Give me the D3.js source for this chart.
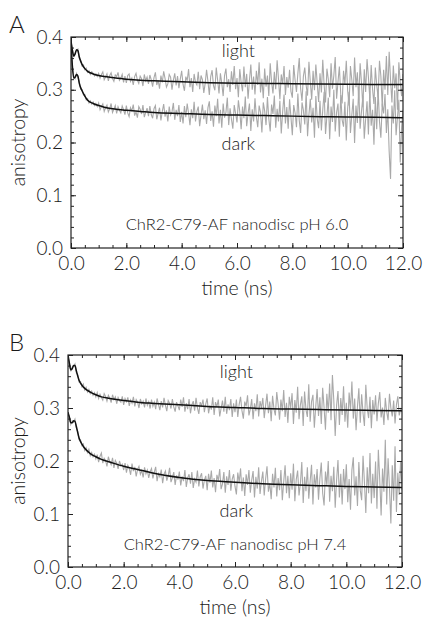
<!DOCTYPE html>
<html>
<head>
<meta charset="utf-8">
<script src="https://cdn.jsdelivr.net/npm/d3@7"></script>
<style>
  body { margin: 0; background: #fff; }
  svg text { font-family: Lato, "Open Sans", sans-serif; font-weight: 300; fill: #1a1a1a; }
</style>
</head>
<body>
<svg id="fig" width="426" height="620"></svg>
<script>
// measured traces are sampled every 0.05 ns from 0 to 12 ns
const sampleTimes = d3.range(241).map(i => i / 20);

// panel A (pH 6.0) measured anisotropy, one row per ns
const lightA = [
  .391, .377, .362, .370, .374, .377, .359, .356, .345, .347, .338, .341, .333, .336, .329, .334, .331, .326, .330, .325,
  .331, .322, .329, .334, .319, .324, .330, .317, .327, .332, .321, .316, .328, .325, .333, .318, .322, .329, .314, .326,
  .313, .327, .330, .316, .322, .309, .325, .331, .318, .312, .326, .321, .307, .329, .317, .324, .311, .328, .319, .306,
  .323, .333, .309, .318, .302, .327, .314, .335, .321, .305, .311, .329, .324, .300, .318, .331, .308, .326, .303, .320,
  .336, .310, .298, .325, .317, .339, .305, .322, .296, .330, .314, .309, .334, .301, .327, .319, .294, .312, .338, .316,
  .290, .325, .337, .308, .299, .342, .318, .293, .331, .312, .288, .327, .340, .305, .320, .296, .335, .309, .345, .301,
  .322, .286, .339, .314, .297, .344, .305, .330, .283, .318, .348, .300, .325, .291, .336, .309, .352, .295, .321, .284,
  .340, .306, .327, .288, .350, .315, .293, .334, .301, .356, .320, .282, .329, .311, .345, .290, .324, .304, .338, .297,
  .285, .347, .318, .296, .331, .360, .302, .279, .326, .342, .308, .289, .353, .315, .281, .336, .299, .348, .312, .277,
  .331, .295, .357, .308, .276, .340, .320, .286, .350, .302, .327, .362, .283, .315, .344, .291, .274, .336, .310, .355,
  .298, .270, .345, .319, .288, .361, .305, .333, .279, .350, .313, .267, .339, .296, .358, .324, .284, .347, .301, .273,
  .342, .309, .285, .355, .326, .268, .338, .300, .364, .290, .372, .318, .276, .346, .303, .331, .262, .352, .314, .288,
  .330
];
const darkA = [
  .387, .342, .325, .321, .331, .323, .315, .301, .300, .290, .291, .281, .283, .275, .279, .273, .277, .270, .274, .268,
  .275, .262, .268, .273, .259, .266, .271, .258, .264, .274, .257, .263, .270, .255, .268, .261, .256, .269, .262, .253,
  .270, .256, .249, .266, .260, .272, .251, .258, .247, .268, .263, .254, .271, .248, .257, .265, .250, .269, .253, .246,
  .264, .270, .244, .255, .266, .242, .259, .273, .249, .261, .240, .268, .252, .258, .275, .243, .262, .250, .271, .239,
  .258, .236, .269, .248, .274, .255, .233, .263, .246, .277, .240, .259, .268, .231, .252, .272, .244, .261, .235, .266,
  .278, .241, .259, .230, .270, .250, .283, .236, .262, .228, .274, .247, .257, .285, .233, .265, .244, .226, .271, .255,
  .238, .280, .259, .225, .268, .246, .287, .231, .255, .274, .222, .263, .240, .284, .249, .229, .270, .257, .219, .276,
  .260, .233, .286, .245, .221, .272, .254, .289, .228, .264, .240, .279, .217, .258, .291, .236, .267, .226, .282, .248,
  .214, .271, .256, .229, .293, .242, .218, .276, .261, .234, .297, .212, .253, .283, .238, .266, .209, .288, .245, .227,
  .279, .223, .262, .296, .216, .250, .285, .206, .268, .239, .300, .221, .257, .274, .211, .290, .243, .230, .277, .204,
  .265, .296, .218, .252, .283, .199, .270, .237, .305, .226, .259, .288, .207, .245, .278, .215, .298, .232, .262, .196,
  .286, .225, .301, .240, .209, .274, .255, .292, .218, .263, .183, .131, .270, .236, .299, .214, .248, .281, .162, .229,
  .262
];

// panel B (pH 7.4) measured anisotropy, one row per ns
const lightB = [
  .397, .387, .369, .377, .378, .383, .366, .363, .349, .350, .340, .345, .334, .339, .330, .335, .327, .332, .324, .329,
  .321, .329, .318, .326, .320, .315, .327, .322, .313, .324, .319, .310, .325, .316, .321, .308, .320, .314, .311, .322,
  .306, .318, .312, .320, .304, .315, .309, .321, .303, .316, .311, .300, .317, .308, .313, .301, .318, .305, .312, .299,
  .316, .303, .311, .298, .318, .307, .296, .313, .301, .319, .305, .294, .314, .309, .299, .317, .302, .293, .311, .304,
  .296, .316, .302, .320, .293, .309, .298, .317, .290, .306, .313, .295, .319, .300, .289, .311, .304, .316, .292, .308,
  .318, .290, .305, .297, .320, .287, .311, .302, .316, .284, .299, .314, .293, .321, .289, .307, .296, .317, .283, .309,
  .292, .316, .283, .307, .321, .295, .280, .312, .303, .324, .286, .298, .317, .279, .309, .294, .326, .284, .313, .300,
  .319, .281, .305, .327, .290, .312, .275, .323, .298, .286, .330, .307, .278, .316, .294, .334, .283, .310, .272, .321,
  .300, .328, .270, .315, .291, .340, .279, .306, .322, .266, .331, .297, .283, .345, .274, .312, .325, .263, .302, .336,
  .285, .320, .270, .338, .301, .259, .327, .291, .346, .277, .362, .314, .247, .305, .332, .268, .319, .287, .341, .274,
  .310, .263, .329, .296, .350, .280, .318, .258, .303, .337, .272, .326, .290, .266, .344, .299, .281, .321, .262, .315,
  .288, .324, .275, .309, .330, .282, .301, .268, .319, .293, .277, .327, .300, .284, .314, .271, .306, .322, .286, .298,
  .292
];
const darkB = [
  .289, .285, .269, .276, .273, .279, .262, .256, .240, .240, .229, .232, .220, .225, .216, .222, .210, .216, .208, .213,
  .204, .212, .198, .209, .215, .196, .205, .201, .190, .208, .199, .193, .206, .187, .201, .196, .185, .200, .191, .194,
  .183, .196, .178, .192, .186, .174, .195, .181, .189, .171, .184, .190, .175, .182, .169, .188, .176, .183, .168, .180,
  .186, .167, .179, .189, .162, .176, .170, .184, .158, .175, .181, .163, .172, .187, .160, .168, .179, .155, .173, .165,
  .180, .154, .171, .162, .183, .151, .168, .175, .157, .179, .149, .166, .160, .182, .152, .170, .177, .148, .164, .172,
  .145, .176, .159, .182, .150, .168, .141, .174, .163, .185, .147, .157, .179, .140, .171, .155, .183, .144, .166, .175,
  .152, .137, .178, .160, .186, .143, .169, .134, .175, .155, .183, .140, .164, .181, .131, .170, .148, .188, .138, .162,
  .180, .135, .166, .190, .142, .158, .128, .176, .150, .187, .133, .168, .145, .183, .126, .161, .192, .139, .172, .130,
  .177, .146, .195, .124, .165, .182, .135, .158, .198, .121, .170, .143, .188, .129, .162, .193, .118, .175, .150, .185,
  .127, .168, .197, .139, .116, .180, .155, .200, .123, .172, .143, .189, .112, .164, .202, .131, .176, .118, .185, .147,
  .194, .122, .166, .108, .183, .207, .135, .171, .115, .198, .145, .126, .210, .160, .102, .188, .139, .215, .120, .176,
  .130, .199, .110, .221, .165, .097, .186, .142, .240, .118, .205, .150, .082, .192, .125, .228, .104, .178, .136, .200,
  .145
];

// fitted curves, read at these times (ns)
const fitTimes = [0, .05, .1, .15, .2, .25, .3, .4, .5, .6, .8, 1, 1.2, 1.5, 2, 2.5, 3, 4, 5, 6, 7, 8, 9, 10, 11, 12];
const fitLightA = [.392, .375, .364, .368, .376, .374, .362, .348, .340, .335, .330, .327, .325, .323, .320, .318, .317, .315, .3135, .3125, .312, .3115, .311, .3105, .310, .310];
const fitDarkA  = [.390, .345, .322, .324, .329, .326, .312, .298, .288, .280, .274, .270, .267, .264, .261, .259, .257, .255, .253, .252, .251, .250, .249, .2485, .248, .247];
const fitLightB = [.400, .384, .372, .374, .380, .380, .370, .352, .343, .337, .330, .325, .321, .318, .314, .311, .309, .306, .303, .301, .299, .298, .297, .296, .2955, .295];
const fitDarkB  = [.292, .282, .272, .272, .276, .275, .265, .243, .232, .224, .214, .208, .203, .198, .190, .184, .178, .169, .163, .160, .157, .155, .1535, .152, .151, .150];

// axes
const xMajor = [0, 2, 4, 6, 8, 10, 12];
const xMinor = d3.range(0, 12.01, 0.5);
const yMajor = [0, 0.1, 0.2, 0.3, 0.4];
const yMinor = d3.range(0, 0.401, 0.02);

const svg = d3.select("#fig");

function drawPanel(p) {
  const x = d3.scaleLinear().domain([0, 12]).range([p.left, p.right]);
  const y = d3.scaleLinear().domain([0, 0.4]).range([p.bottom, p.top]);
  const g = svg.append("g");

  g.append("clipPath").attr("id", p.id + "-clip")
    .append("rect")
      .attr("x", p.left).attr("y", p.top)
      .attr("width", p.right - p.left).attr("height", p.bottom - p.top);

  const plot = g.append("g").attr("clip-path", `url(#${p.id}-clip)`);

  const dataLine = d3.line()
    .x((d, i) => x(sampleTimes[i]))
    .y(d => y(d));
  const fitLine = d3.line()
    .x((d, i) => x(fitTimes[i]))
    .y(d => y(d))
    .curve(d3.curveMonotoneX);

  [p.light, p.dark].forEach(s => {
    plot.append("path").datum(s)
      .attr("d", dataLine)
      .style("fill", "none")
      .style("stroke", "#a9a9a9")
      .style("stroke-width", 1.1);
  });
  [p.fitLight, p.fitDark].forEach(s => {
    plot.append("path").datum(s)
      .attr("d", fitLine)
      .style("fill", "none")
      .style("stroke", "#111")
      .style("stroke-width", 1.5);
  });

  // ticks point inwards on all four sides
  const axes = [
    [d3.axisBottom(x).tickValues(xMinor).tickSize(-3).tickFormat(""), `translate(0,${p.bottom})`],
    [d3.axisTop(x).tickValues(xMinor).tickSize(-3).tickFormat(""), `translate(0,${p.top})`],
    [d3.axisLeft(y).tickValues(yMinor).tickSize(-3).tickFormat(""), `translate(${p.left},0)`],
    [d3.axisRight(y).tickValues(yMinor).tickSize(-3).tickFormat(""), `translate(${p.right},0)`],
    [d3.axisBottom(x).tickValues(xMajor).tickSize(-5).tickPadding(9).tickFormat(d3.format(".1f")), `translate(0,${p.bottom})`],
    [d3.axisTop(x).tickValues(xMajor).tickSize(-5).tickFormat(""), `translate(0,${p.top})`],
    [d3.axisLeft(y).tickValues(yMajor).tickSize(-5).tickPadding(8).tickFormat(d3.format(".1f")), `translate(${p.left},0)`],
    [d3.axisRight(y).tickValues(yMajor).tickSize(-5).tickFormat(""), `translate(${p.right},0)`]
  ];
  axes.forEach(([ax, tr]) => {
    const a = g.append("g").attr("transform", tr).call(ax);
    a.select(".domain").remove();
    a.selectAll("line").style("stroke", "#222");
    a.selectAll("text").style("font-size", "19px").style("font-family", "Lato, sans-serif")
      .style("font-weight", 300).style("fill", "#1a1a1a");
  });

  g.append("rect")
    .attr("x", p.left).attr("y", p.top)
    .attr("width", p.right - p.left).attr("height", p.bottom - p.top)
    .style("fill", "none").style("stroke", "#222").style("stroke-width", 1.2);

  // labels
  g.append("text").attr("x", 9).attr("y", p.top - 4)
    .style("font-size", "24px").text(p.letter);

  g.append("text")
    .attr("transform", `translate(25,${(p.top + p.bottom) / 2}) rotate(-90)`)
    .attr("text-anchor", "middle")
    .style("font-size", "19.5px").text("anisotropy");

  g.append("text")
    .attr("x", (p.left + p.right) / 2).attr("y", p.bottom + 47)
    .attr("text-anchor", "middle")
    .style("font-size", "19.5px").text("time (ns)");

  g.append("text").attr("x", x(6.05)).attr("y", y(p.lightLabel))
    .attr("text-anchor", "middle").style("font-size", "18px").text("light");
  g.append("text").attr("x", x(6.05)).attr("y", y(p.darkLabel))
    .attr("text-anchor", "middle").style("font-size", "18px").text("dark");
  g.append("text").attr("x", x(6)).attr("y", y(p.noteLabel))
    .attr("text-anchor", "middle").style("font-size", "16.5px").text(p.note);
}

drawPanel({
  id: "pA", letter: "A", left: 71, right: 403, top: 37, bottom: 248,
  light: lightA, dark: darkA, fitLight: fitLightA, fitDark: fitDarkA,
  lightLabel: 0.362, darkLabel: 0.186, noteLabel: 0.034,
  note: "ChR2-C79-AF nanodisc pH 6.0"
});
drawPanel({
  id: "pB", letter: "B", left: 68, right: 402, top: 355, bottom: 567,
  light: lightB, dark: darkB, fitLight: fitLightB, fitDark: fitDarkB,
  lightLabel: 0.357, darkLabel: 0.094, noteLabel: 0.032,
  note: "ChR2-C79-AF nanodisc pH 7.4"
});
</script>
</body>
</html>
